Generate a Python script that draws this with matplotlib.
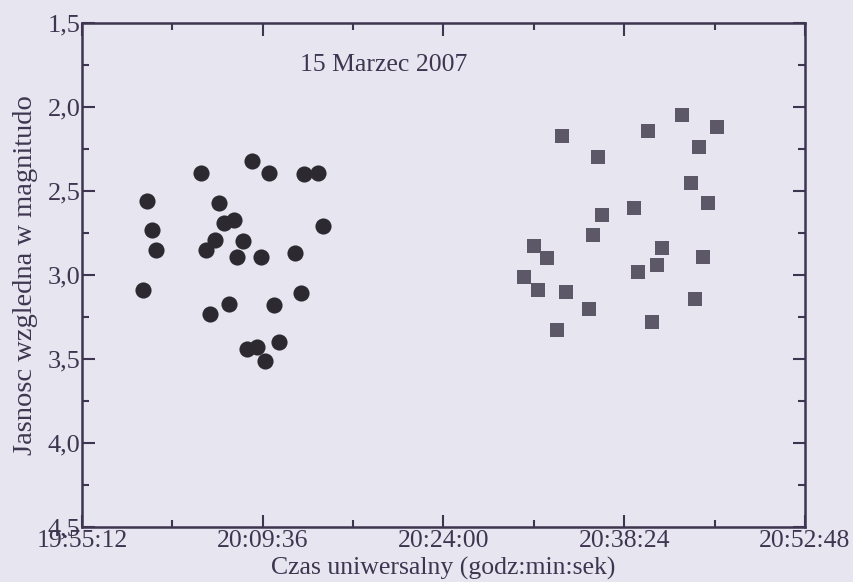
import pandas as pd
import matplotlib.pyplot as plt
from matplotlib.ticker import FuncFormatter, MultipleLocator

day = "2007-03-15 "

# pierwsza seria (kolka)
circle_times = ["20:00:21", "20:00:45", "20:01:04", "20:00:02", "20:04:41", "20:06:07",
                "20:06:32", "20:07:19", "20:05:48", "20:05:05", "20:08:00", "20:07:34",
                "20:08:43", "20:10:07", "20:09:26", "20:12:12", "20:12:53", "20:14:02",
                "20:14:23", "20:12:37", "20:05:24", "20:06:53", "20:10:31", "20:08:19",
                "20:09:07", "20:10:54", "20:09:48"]
circle_mag = [2.56, 2.73, 2.85, 3.09, 2.39, 2.57, 2.69, 2.67, 2.79, 2.85, 2.80, 2.89,
              2.32, 2.39, 2.89, 2.87, 2.40, 2.39, 2.71, 3.11, 3.23, 3.17, 3.18, 3.44,
              3.43, 3.40, 3.51]

# druga seria (kwadraty)
square_times = ["20:33:25", "20:36:17", "20:40:19", "20:42:59", "20:45:49", "20:44:23",
                "20:43:42", "20:45:06", "20:39:12", "20:36:39", "20:35:53", "20:31:14",
                "20:32:16", "20:41:23", "20:44:42", "20:40:59", "20:39:31", "20:30:25",
                "20:31:30", "20:33:44", "20:44:02", "20:35:35", "20:40:38", "20:33:01"]
square_mag = [2.17, 2.30, 2.14, 2.05, 2.12, 2.24, 2.45, 2.57, 2.60, 2.64, 2.76, 2.83,
              2.90, 2.84, 2.89, 2.94, 2.98, 3.01, 3.09, 3.10, 3.14, 3.20, 3.28, 3.33]

x_ticks = ["19:55:12", "20:09:36", "20:24:00", "20:38:24", "20:52:48"]
y_ticks = [1.5, 2.0, 2.5, 3.0, 3.5, 4.0, 4.5]

bg = "#e6e5f0"
ink = "#3e3650"

plt.rcParams['font.family'] = ['Liberation Serif', 'DejaVu Serif']

fig = plt.figure(figsize=(8.54, 5.82), dpi=100, facecolor=bg)
ax = fig.add_axes([0.096, 0.0945, 0.8466, 0.866])
ax.set_facecolor(bg)

ct = pd.to_datetime([day + t for t in circle_times])
st = pd.to_datetime([day + t for t in square_times])
ax.scatter(ct, circle_mag, s=135, marker='o', color="#2c2a30", linewidths=0, zorder=3)
ax.scatter(st, square_mag, s=95, marker='s', color="#5d5868", linewidths=0, zorder=3)

xt = pd.to_datetime([day + t for t in x_ticks])
ax.set_xlim(xt[0], xt[-1])
ax.set_xticks(xt)
ax.set_xticklabels(x_ticks)
minor = [xt[i] + (xt[i + 1] - xt[i]) / 2 for i in range(len(xt) - 1)]
ax.set_xticks(minor, minor=True)

ax.set_ylim(4.5, 1.5)
ax.set_yticks(y_ticks)
ax.yaxis.set_minor_locator(MultipleLocator(0.25))
ax.yaxis.set_major_formatter(FuncFormatter(lambda v, p: f"{v:.1f}".replace('.', ',')))

ax.tick_params(which='both', direction='in', top=True, right=True, colors=ink, width=1.5)
ax.tick_params(which='major', length=9)
ax.tick_params(which='minor', length=5)
ax.tick_params(axis='x', labelsize=18.5, pad=2)
ax.tick_params(axis='y', labelsize=19, pad=1)
for sp in ax.spines.values():
    sp.set_color(ink)
    sp.set_linewidth(1.8)

ax.text(0.3015, 0.917, "15 Marzec 2007", transform=ax.transAxes, fontsize=18.5, color=ink,
        va='center', ha='left')
ax.set_xlabel("Czas uniwersalny (godz:min:sek)", fontsize=18.5, color=ink, labelpad=4)
ax.set_ylabel("Jasnosc wzgledna w magnitudo", fontsize=20.5, color=ink, labelpad=7)

fig.savefig("out.png", dpi=100, facecolor=bg)
